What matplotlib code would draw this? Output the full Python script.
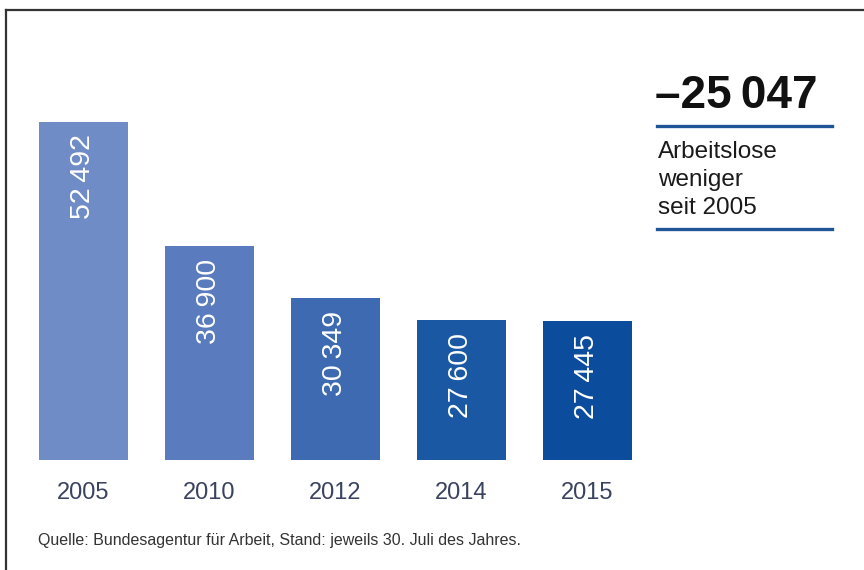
import matplotlib.pyplot as plt
from matplotlib.lines import Line2D

years = ['2005', '2010', '2012', '2014', '2015']
values = [52492, 36900, 30349, 27600, 27445]
labels = ['52\u2009492', '36\u2009900', '30\u2009349', '27\u2009600', '27\u2009445']
colors = ['#6f8cc6', '#5a7bbd', '#3e6ab1', '#1a58a4', '#0b4c9c']
base = 10000

W, H = 864, 570
fig = plt.figure(figsize=(W / 100, H / 100), dpi=100)

# axes placed so bars sit where the original has them
ax = fig.add_axes([20.5 / W, (H - 460) / H, 630 / W, 357.9 / H])
x = range(len(years))
ax.bar(x, [v - base for v in values], bottom=base, width=0.71, color=colors)
ax.set_xlim(-0.5, 4.5)
ax.set_ylim(base, 55000)
for s in ax.spines.values():
    s.set_visible(False)
ax.set_yticks([])
ax.set_xticks(list(x), years)
ax.tick_params(axis='x', length=0, pad=16, labelsize=17, labelcolor='#3b4260')
for t in ax.get_xticklabels():
    t.set_family(['Liberation Sans', 'DejaVu Sans'])

for i, (v, lab) in enumerate(zip(values, labels)):
    ax.annotate(lab, (i, v), xytext=(0, -9), textcoords='offset points',
                rotation=90, ha='center', va='top', color='white',
                fontsize=20.5, family=['Liberation Sans', 'DejaVu Sans'])

# source
fig.text(38 / W, 1 - 540 / H, 'Quelle: Bundesagentur für Arbeit, Stand: jeweils 30. Juli des Jahres.',
         fontsize=11.5, color='#333333', va='center',
         family=['Liberation Sans', 'DejaVu Sans'])

# right-hand box
fig.text(655 / W, 1 - 96 / H, '\u201325\u2009047', fontsize=33, fontweight='bold',
         color='#111111', va='center', family=['Liberation Sans', 'DejaVu Sans'])
fig.add_artist(Line2D([657 / W, 832 / W], [1 - 126 / H] * 2, color='#1f5597', lw=2.4))
fig.text(658 / W, 1 - 180 / H, 'Arbeitslose\nweniger\nseit 2005', fontsize=17.5,
         color='#1a1a1a', va='center', linespacing=1.38,
         family=['Liberation Sans', 'DejaVu Sans'])
fig.add_artist(Line2D([657 / W, 832 / W], [1 - 229 / H] * 2, color='#1f5597', lw=2.4))

# frame
fig.add_artist(Line2D([5.5 / W, 1], [1 - 9.5 / H] * 2, color='#333333', lw=1.6))
fig.add_artist(Line2D([5.5 / W] * 2, [0, 1 - 9.5 / H], color='#333333', lw=1.6))

fig.savefig('out.png', dpi=100)
